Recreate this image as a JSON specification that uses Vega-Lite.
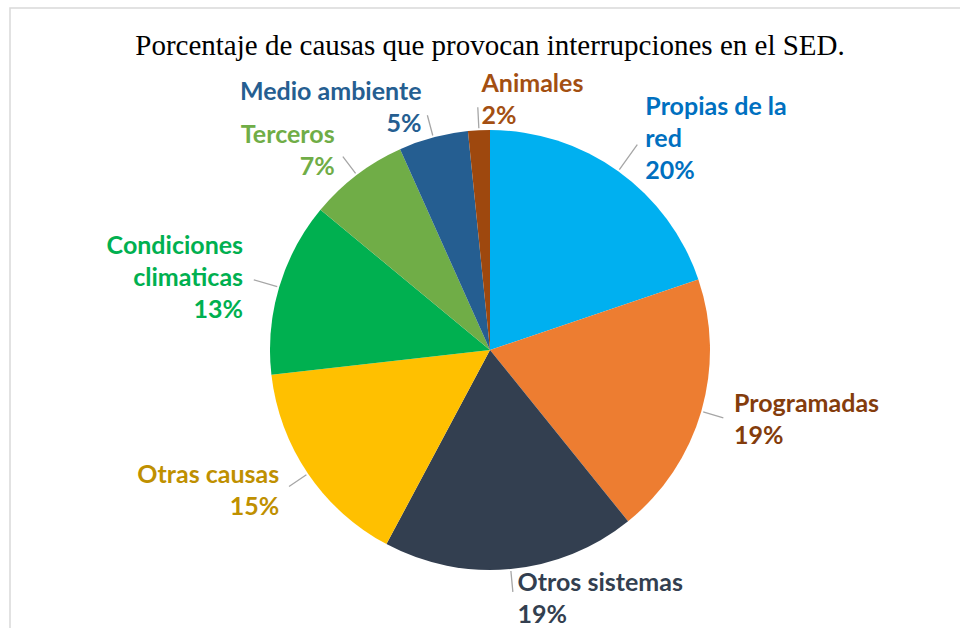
{
  "$schema": "https://vega.github.io/schema/vega-lite/v6.json",
  "width": 960,
  "height": 684,
  "autosize": {"type": "none"},
  "padding": {"left": 10, "top": 8, "right": -10, "bottom": -64},
  "background": "white",
  "view": {"stroke": "#D9D9D9", "strokeWidth": 1.5},
  "title": {
    "text": "Porcentaje de causas que provocan interrupciones en el SED.",
    "font": "Liberation Serif",
    "fontSize": 29,
    "fontWeight": "normal",
    "color": "#000000",
    "anchor": "middle",
    "baseline": "alphabetic",
    "offset": -76
  },
  "data": {
    "values": [
      {"causa": "Propias de la red", "etiqueta": "Propias de la\nred", "valor": 19.8},
      {"causa": "Programadas", "etiqueta": "Programadas", "valor": 19.4},
      {"causa": "Otros sistemas", "etiqueta": "Otros sistemas", "valor": 18.6},
      {"causa": "Otras causas", "etiqueta": "Otras causas", "valor": 15.4},
      {"causa": "Condiciones climaticas", "etiqueta": "Condiciones\nclimaticas", "valor": 12.8},
      {"causa": "Terceros", "etiqueta": "Terceros", "valor": 7.3},
      {"causa": "Medio ambiente", "etiqueta": "Medio ambiente", "valor": 5.1},
      {"causa": "Animales", "etiqueta": "Animales", "valor": 1.6}
    ]
  },
  "transform": [
    {"stack": "valor", "groupby": [], "sort": [{"field": "valor", "order": "descending"}], "as": ["v0", "v1"]},
    {"calculate": "(datum.v0 + datum.v1) / 2", "as": "mid"},
    {"calculate": "datum.mid * PI / 50", "as": "ang"},
    {"calculate": "datum.etiqueta + '\\n' + format(datum.valor / 100, '.0%')", "as": "lbl"},
    {"calculate": "length(split(datum.lbl, '\\n'))", "as": "nl"},
    {"calculate": "250 + 12 * (datum.nl - 2) * abs(cos(datum.ang))", "as": "rl"},
    {"calculate": "datum.rl - 7", "as": "ll"}
  ],
  "layer": [
    {
      "mark": {"type": "arc", "radius": 220},
      "encoding": {
        "theta": {"field": "v0", "type": "quantitative", "stack": null, "scale": {"domain": [0, 100]}},
        "theta2": {"field": "v1"},
        "color": {
          "field": "causa",
          "type": "nominal",
          "scale": {
            "domain": ["Propias de la red", "Programadas", "Otros sistemas", "Otras causas", "Condiciones climaticas", "Terceros", "Medio ambiente", "Animales"],
            "range": ["#00B0F0", "#ED7D31", "#333F50", "#FFC000", "#00B050", "#70AD47", "#255E91", "#9E480E"]
          },
          "legend": null
        }
      }
    },
    {
      "mark": {"type": "arc", "filled": false, "color": "#A6A6A6", "strokeWidth": 1.3, "radius2": 222},
      "encoding": {
        "theta": {"field": "mid", "type": "quantitative", "stack": null},
        "theta2": {"field": "mid"},
        "radius": {"field": "ll", "type": "quantitative", "scale": null}
      }
    },
    {
      "mark": {
        "type": "text",
        "font": "Lato",
        "fontSize": 25,
        "fontWeight": "bold",
        "lineBreak": "\n",
        "lineHeight": 32,
        "baseline": "middle",
        "align": {"expr": "sin(datum.ang) > -0.15 ? 'left' : 'right'"},
        "dx": {"expr": "sin(datum.ang) > -0.15 ? 4 : -4"},
        "dy": {"expr": "-(datum.nl - 1) * 16"}
      },
      "encoding": {
        "theta": {"field": "mid", "type": "quantitative", "stack": null},
        "radius": {"field": "rl", "type": "quantitative", "scale": null},
        "text": {"field": "lbl"},
        "fill": {
          "field": "causa",
          "type": "nominal",
          "scale": {
            "domain": ["Propias de la red", "Programadas", "Otros sistemas", "Otras causas", "Condiciones climaticas", "Terceros", "Medio ambiente", "Animales"],
            "range": ["#0070C0", "#843C0C", "#333F50", "#BF9000", "#00B050", "#70AD47", "#255E91", "#A34F12"]
          },
          "legend": null
        }
      }
    }
  ]
}
